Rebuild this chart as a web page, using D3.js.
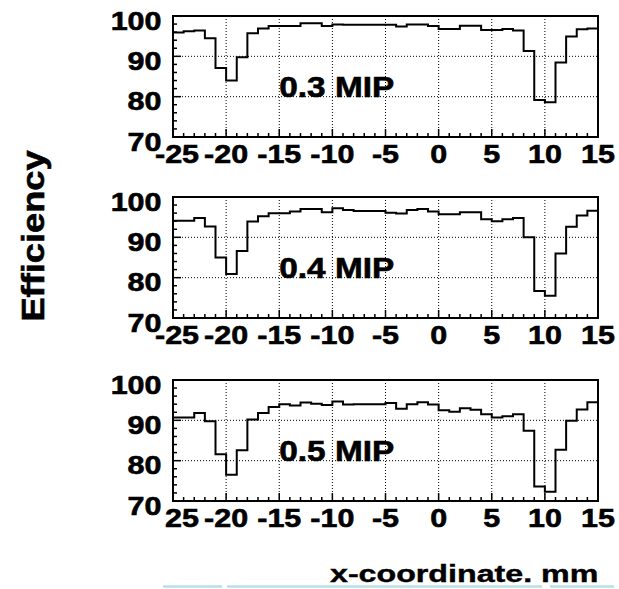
<!DOCTYPE html>
<html>
<head>
<meta charset="utf-8">
<script src="https://cdn.jsdelivr.net/npm/d3@7"></script>
<style>
  html, body { margin: 0; padding: 0; background: #fff; }
  text { font-family: "Liberation Sans", Arial, Helvetica, sans-serif; font-weight: bold; fill: #000;
         stroke: #000; stroke-width: 0.6px; }
</style>
</head>
<body>
<div id="chart"></div>
<script>
// efficiency vs x-coordinate, 1 mm bins from -25 to 15
const binLow = d3.range(-25, 15);

const eff03 = [95.9, 96.2, 96.4, 94.5, 87.1, 84.0, 89.8, 95.7, 96.9, 97.5,
               97.5, 97.5, 98.2, 98.2, 97.5, 97.9, 97.8, 97.8, 97.8, 97.8,
               97.8, 97.4, 97.9, 97.9, 97.5, 96.8, 96.8, 97.6, 97.6, 96.5,
               96.5, 96.8, 96.4, 91.3, 79.2, 78.6, 88.5, 94.9, 96.7, 96.9];

const eff04 = [94.1, 94.1, 94.8, 92.7, 85.0, 80.9, 86.6, 93.9, 95.2, 96.0,
               96.0, 96.4, 97.0, 97.0, 96.2, 97.2, 96.8, 96.5, 96.5, 96.5,
               96.1, 95.9, 96.8, 97.0, 96.4, 95.7, 95.7, 96.2, 96.2, 94.5,
               94.0, 94.5, 94.8, 90.0, 76.7, 75.5, 86.0, 92.6, 95.4, 96.6];

const eff05 = [90.7, 90.7, 91.8, 89.8, 81.6, 76.5, 82.6, 90.2, 91.8, 93.3,
               94.0, 93.7, 94.4, 94.1, 93.8, 94.7, 93.9, 94.0, 94.0, 94.0,
               94.3, 92.9, 94.0, 94.5, 93.9, 92.5, 92.1, 93.0, 92.6, 91.5,
               90.7, 91.0, 91.5, 87.4, 73.6, 72.3, 82.7, 89.9, 92.7, 94.5];

const panelLabels = ["0.3 MIP", "0.4 MIP", "0.5 MIP"];
const xTicks = [-25, -20, -15, -10, -5, 0, 5, 10, 15];
const xTickLabels = [
  ["-25", "-20", "-15", "-10", "-5", "0", "5", "10", "15"],
  ["-25", "-20", "-15", "-10", "-5", "0", "5", "10", "15"],
  ["25", "-20", "-15", "-10", "-5", "0", "5", "10", "15"]
];
const yTicks = [70, 80, 90, 100];
const series = [eff03, eff04, eff05];

const W = 619, H = 589;
const svg = d3.select("#chart").append("svg")
  .attr("width", W).attr("height", H);
svg.append("rect").attr("width", W).attr("height", H).attr("fill", "#fff");

const x = d3.scaleLinear().domain([-25, 15]).range([173, 598]);
const panelTops = [16, 197, 380];
const panelH = 121;
const stretch = 1.15;

series.forEach((vals, p) => {
  const top = panelTops[p];
  const y = d3.scaleLinear().domain([70, 100]).range([top + panelH, top]);
  const g = svg.append("g");

  // dotted grid
  g.selectAll("line.vgrid").data(xTicks.slice(1, -1)).join("line")
    .attr("x1", d => x(d)).attr("x2", d => x(d))
    .attr("y1", y(100)).attr("y2", y(70))
    .attr("stroke", "#000").attr("stroke-width", 1)
    .attr("stroke-dasharray", "1,2");
  g.selectAll("line.hgrid").data([80, 90]).join("line")
    .attr("x1", x(-25)).attr("x2", x(15))
    .attr("y1", d => y(d)).attr("y2", d => y(d))
    .attr("stroke", "#000").attr("stroke-width", 1)
    .attr("stroke-dasharray", "1,2");

  // ticks: y minor every 2, x minor every 1
  g.selectAll("line.ytick").data(d3.range(70, 100.1, 2)).join("line")
    .attr("x1", x(-25)).attr("x2", d => x(-25) + (d % 10 === 0 ? 8 : 4))
    .attr("y1", d => y(d)).attr("y2", d => y(d))
    .attr("stroke", "#000").attr("stroke-width", 1.5);
  g.selectAll("line.xtick").data(d3.range(-25, 15.1, 1)).join("line")
    .attr("x1", d => x(d)).attr("x2", d => x(d))
    .attr("y1", y(70)).attr("y2", d => y(70) - (d % 5 === 0 ? 8 : 4))
    .attr("stroke", "#000").attr("stroke-width", 1.5);

  // histogram
  const pts = binLow.map((b, i) => [b, vals[i]]);
  pts.push([15, vals[vals.length - 1]]);
  const line = d3.line().x(d => x(d[0])).y(d => y(d[1])).curve(d3.curveStepAfter);
  g.append("path").attr("d", line(pts))
    .attr("fill", "none").attr("stroke", "#000").attr("stroke-width", 2);

  // frame
  g.append("rect")
    .attr("x", x(-25)).attr("y", y(100))
    .attr("width", x(15) - x(-25)).attr("height", y(70) - y(100))
    .attr("fill", "none").attr("stroke", "#000").attr("stroke-width", 2);

  // y tick labels
  g.selectAll("text.ylab").data(yTicks).join("text")
    .attr("text-anchor", "end")
    .attr("font-size", 26.5)
    .attr("transform", d => `translate(${x(-25) - 11.5},${y(d) + 13.5}) scale(${stretch},1)`)
    .text(d => d);

  // x tick labels
  g.selectAll("text.xlab").data(xTicks).join("text")
    .attr("text-anchor", "middle")
    .attr("font-size", 26.5)
    .attr("transform", (d, i) => {
      const lab = xTickLabels[p][i];
      const shift = (i === 0) ? (lab.startsWith("-") ? 4 : 9) : 0;
      return `translate(${x(d) + shift},${y(70) + 26}) scale(${stretch},1)`;
    })
    .text((d, i) => xTickLabels[p][i]);

  // panel label
  g.append("text")
    .attr("font-size", 29)
    .attr("transform", `translate(${x(-15)},${y(80) + 0.5}) scale(${stretch},1)`)
    .text(panelLabels[p]);
});

// axis titles
svg.append("text")
  .attr("text-anchor", "middle")
  .attr("font-size", 31)
  .attr("transform", `translate(44,236) rotate(-90) scale(1.17,1)`)
  .text("Efficiency");

svg.append("text")
  .attr("text-anchor", "start")
  .attr("font-size", 23)
  .style("stroke-width", "0.4px")
  .attr("transform", `translate(330,581.5) scale(1.4,1)`)
  .text("x-coordinate. mm");

// light underline strokes at the bottom edge
const underline = [[163, 222], [227, 542], [550, 614]];
svg.selectAll("line.ul").data(underline).join("line")
  .attr("x1", d => d[0]).attr("x2", d => d[1])
  .attr("y1", 586.5).attr("y2", 586.5)
  .attr("stroke", "#b9e0e4").attr("stroke-width", 2.5);
</script>
</body>
</html>
